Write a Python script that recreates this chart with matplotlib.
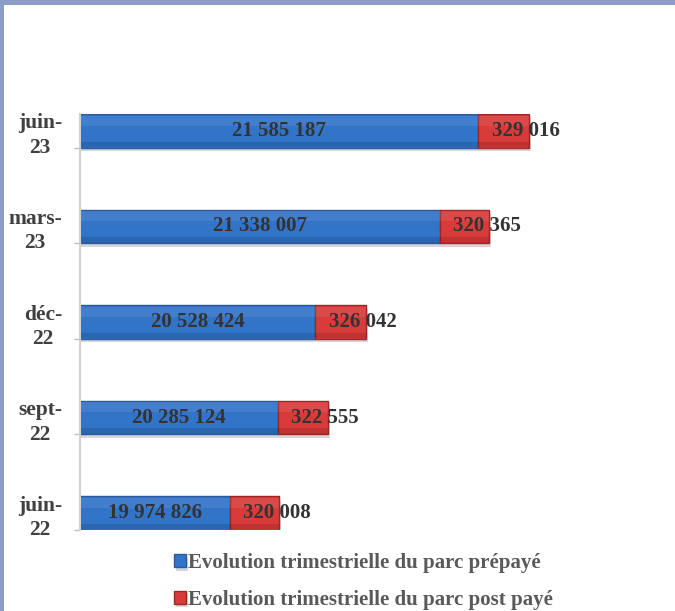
# -*- coding:utf-8 -*-
import numpy as np
import matplotlib
matplotlib.use('Agg')
import matplotlib.pyplot as plt
import matplotlib.patheffects as pe
from matplotlib.patches import Rectangle

plt.rcParams['font.family'] = ['Liberation Serif', 'DejaVu Serif']
plt.rcParams['font.weight'] = 'bold'

# data (bottom to top)
trimestres = ['juin-\n22', 'sept-\n22', 'déc-\n22', 'mars-\n23', 'juin-\n23']
prepaye = [19974826, 20285124, 20528424, 21338007, 21585187]
postpaye = [320008, 322555, 326042, 320365, 329016]
labels_series = ['Evolution trimestrielle du parc prépayé',
                 'Evolution trimestrielle du parc post payé']

def fmt(v):
    return '{:,}'.format(v).replace(',', ' ')

fig = plt.figure(figsize=(6.75, 6.11), dpi=100)
fig.patch.set_facecolor('white')

# periwinkle frame on top and left
fig.patches.append(Rectangle((0, 1 - 5/611), 1, 5/611, transform=fig.transFigure,
                             facecolor='#8C9CC8', edgecolor='none'))
fig.patches.append(Rectangle((0, 0), 4/675, 1, transform=fig.transFigure,
                             facecolor='#8C9CC8', edgecolor='none'))

ax = fig.add_axes([80/675, 81/611, 595/675, 416/611])

y = np.arange(len(trimestres))
h = 0.355
xmin = 19000000
xmax = xmin + 595 / 1.54e-4

shadow = [pe.SimplePatchShadow(offset=(1.5, -2.5), alpha=0.18), pe.Normal()]
b1 = ax.barh(y, prepaye, height=h, color='#3274C8', edgecolor='#2A5A9C',
             linewidth=1, label=labels_series[0])
b2 = ax.barh(y, postpaye, left=prepaye, height=h, color='#D93A3A', edgecolor='#9E2626',
             linewidth=1, label=labels_series[1])
for r in list(b1) + list(b2):
    r.set_path_effects(shadow)

# bevel look: light band on top, dark band at the bottom
tot = [a + b for a, b in zip(prepaye, postpaye)]
ax.barh(y + h*0.30, tot, height=h*0.30, color='white', alpha=0.08, linewidth=0)
ax.barh(y - h*0.40, tot, height=h*0.16, color='black', alpha=0.12, linewidth=0)

for i in range(len(y)):
    ax.text((xmin + prepaye[i]) / 2, y[i], fmt(prepaye[i]), ha='center', va='center',
            fontsize=15, fontweight='bold', color='#333333')
    ax.annotate(fmt(postpaye[i]), (prepaye[i] + postpaye[i], y[i]), xytext=(-2, 0),
                textcoords='offset points', ha='center', va='center',
                fontsize=15, fontweight='bold', color='#333333')

ax.set_xlim(xmin, xmax)
ax.set_ylim(-h/2, len(y) - 1 + h/2)

ax.set_yticks(y)
ax.set_yticklabels(trimestres, fontsize=15.5, fontweight='bold', color='#404040',
                   multialignment='center', linespacing=1.3)
ax.tick_params(axis='y', which='major', length=0, pad=13)
ax.set_yticks(y - h/2, minor=True)
ax.tick_params(axis='y', which='minor', length=4.5, width=1, color='#BFBFBF')
ax.set_xticks([])

for s in ['top', 'right', 'bottom']:
    ax.spines[s].set_visible(False)
ax.spines['left'].set_color('#D0D0D0')
ax.spines['left'].set_linewidth(1.5)

fig.legend(handles=[b1, b2], labels=labels_series, loc='upper left',
           bbox_to_anchor=(174/675, 1 - 553/611), frameon=False,
           prop={'family': ['Liberation Serif', 'DejaVu Serif'], 'weight': 'bold', 'size': 15},
           labelcolor='#595959', handlelength=0.57, handleheight=0.57,
           handletextpad=0.12, labelspacing=0.8, borderpad=0, borderaxespad=0)

plt.savefig('out.png', dpi=100)
